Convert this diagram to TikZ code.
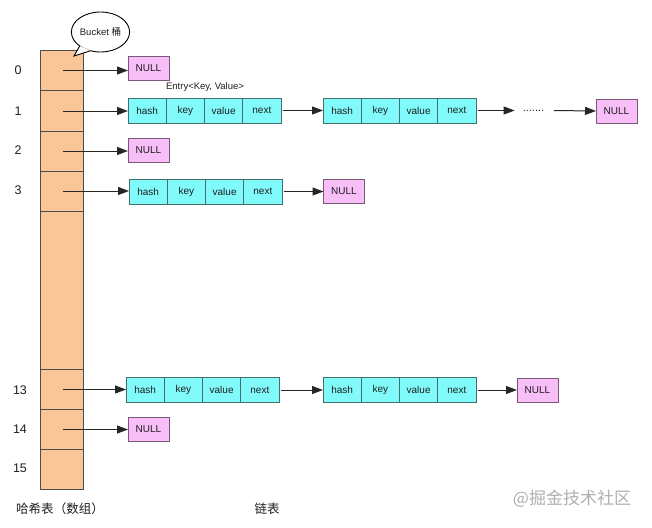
\documentclass[tikz,border=0pt]{standalone}
\usepackage{fontspec}
\setmainfont{Liberation Sans}
\newfontfamily\cjk{Noto Sans CJK SC}
\usetikzlibrary{arrows.meta,shapes.geometric}
\definecolor{bucketfill}{RGB}{250,198,152}
\definecolor{cyanfill}{RGB}{128,250,250}
\definecolor{pinkfill}{RGB}{248,190,248}
\definecolor{cyanline}{RGB}{70,110,110}
\definecolor{pinkline}{RGB}{120,90,120}
\definecolor{txt}{RGB}{30,30,30}
\definecolor{wm}{RGB}{175,175,175}
\newcommand\entryrow[3]{%
  \node[ecell] (#1h) at (#2+19.125,#3) {hash};
  \node[ecell,anchor=west] (#1k) at (#1h.east) {key};
  \node[ecell,anchor=west] (#1v) at (#1k.east) {value};
  \node[ecell,anchor=west] (#1n) at (#1v.east) {next};
}
\begin{document}
\begin{tikzpicture}[x=1pt,y=-1pt,
  bcell/.style={draw=black!70,fill=bucketfill,line width=0.9pt,minimum width=43pt,inner sep=0pt,outer sep=0pt},
  ecell/.style={draw=cyanline,fill=cyanfill,line width=0.8pt,minimum width=38.25pt,minimum height=25pt,inner sep=0pt,outer sep=0pt,font=\fontsize{10}{11}\selectfont,text=txt},
  nullbox/.style={draw=pinkline,fill=pinkfill,line width=0.8pt,minimum width=41pt,minimum height=24pt,inner sep=0pt,outer sep=0pt,font=\fontsize{10}{11}\selectfont,text=txt},
  idx/.style={font=\fontsize{12.5}{13}\selectfont,text=txt},
  arr/.style={-{Triangle[length=11pt,width=8pt]},line width=1pt,draw=black!85,shorten <=1.5pt},
]
\useasboundingbox (0,0) rectangle (652,527);
% bucket array
\node[bcell,minimum height=40.5pt] (c0) at (61.5,70.5) {};
\node[bcell,minimum height=40.5pt] (c1) at (61.5,111) {};
\node[bcell,minimum height=40pt] (c2) at (61.5,151) {};
\node[bcell,minimum height=40pt] (c3) at (61.5,191) {};
\node[bcell,minimum height=158pt] (cg) at (61.5,290) {};
\node[bcell,minimum height=40.5pt] (c13) at (61.5,389.5) {};
\node[bcell,minimum height=39.5pt] (c14) at (61.5,429.5) {};
\node[bcell,minimum height=40pt] (c15) at (61.5,469) {};
% indices
\node[idx] (i0) at (18,70) {0};
\node[idx] (i1) at (18,111) {1};
\node[idx] (i2) at (18,150) {2};
\node[idx] (i3) at (18,190) {3};
\node[idx] (i13) at (20,390) {13};
\node[idx] (i14) at (20,429) {14};
\node[idx] (i15) at (20,468) {15};
% bubble
\node[ellipse,draw=black,line width=0.9pt,fill=white,minimum width=55pt,minimum height=40pt,inner sep=0pt,outer sep=0pt,font=\fontsize{9.5}{10}\selectfont,text=txt] (bubble) at (100.5,32) {Bucket {\cjk 桶}};
\coordinate (tip) at (74,56);
\fill[white] (bubble.-146) -- (tip) -- (bubble.-118) -- cycle;
\draw[line width=0.9pt] (bubble.-146) -- (tip) -- (bubble.-118);
% NULL boxes
\node[nullbox] (n0) at (148.5,68) {NULL};
\node[nullbox] (n1) at (616.5,111) {NULL};
\node[nullbox] (n2) at (148.5,150) {NULL};
\node[nullbox] (n3) at (344,191.5) {NULL};
\node[nullbox] (n13) at (537.5,390) {NULL};
\node[nullbox] (n14) at (148.5,429) {NULL};
% entries
\entryrow{ra}{128}{110.5}
\entryrow{rb}{323}{110.5}
\entryrow{rc}{129}{191.5}
\entryrow{rd}{126}{390}
\entryrow{re}{323}{390}
\node[font=\fontsize{9.5}{10}\selectfont,text=txt] (entrylbl) at (205,87) {Entry<Key, Value>};
\node[font=\fontsize{11}{12}\selectfont,text=txt,inner xsep=8pt,inner ysep=0pt,anchor=base] (dots) at (533.5,111.5) {.......};
% arrows from buckets
\draw[arr] (c0.center) -- (c0.center -| n0.west);
\draw[arr] (c1.center) -- (c1.center -| rah.west);
\draw[arr] (c2.center) -- (c2.center -| n2.west);
\draw[arr] (c3.center) -- (c3.center -| rch.west);
\draw[arr] (c13.center) -- (c13.center -| rdh.west);
\draw[arr] (c14.center) -- (c14.center -| n14.west);
% chain arrows
\draw[arr] (ran.east) -- (rbh.west);
\draw[arr] (rbn.east) -- (rbn.east -| dots.west);
\draw[arr] (rbn.east -| dots.east) -- (n1.west);
\draw[arr] (rcn.east) -- (n3.west);
\draw[arr] (rdn.east) -- (reh.west);
\draw[arr] (ren.east) -- (n13.west);
% bottom labels
\node[font=\cjk\fontsize{12.5}{13}\selectfont,text=txt] (lblarr) at (60,509) {哈希表（数组）};
\node[font=\cjk\fontsize{12.5}{13}\selectfont,text=txt] (lbllist) at (267,509) {链表};
\node[font=\cjk\fontsize{17}{18}\selectfont,text=wm] (wmark) at (572,499) {@掘金技术社区};
\end{tikzpicture}
\end{document}
